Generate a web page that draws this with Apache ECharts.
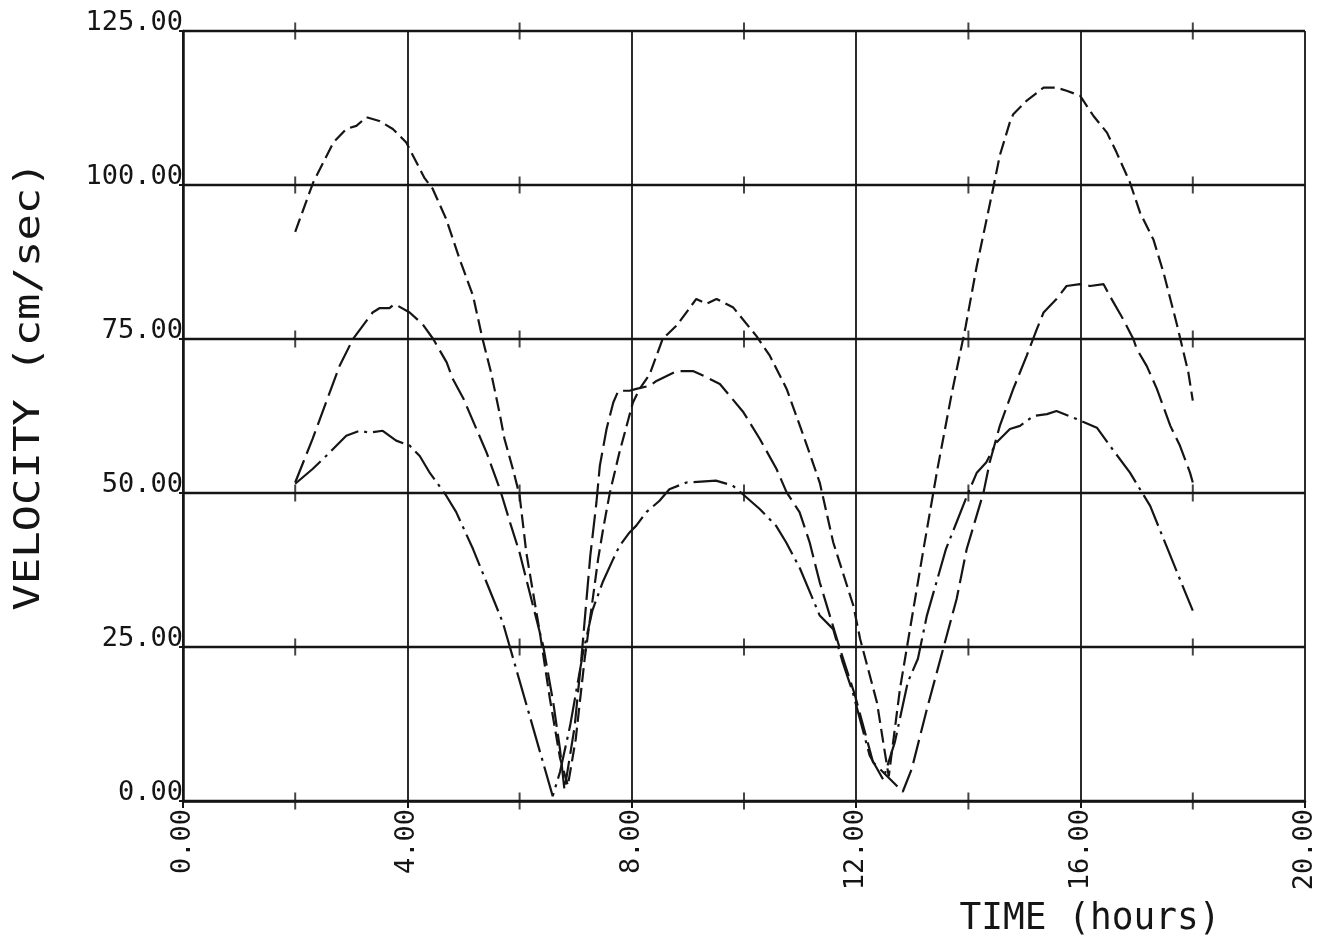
<!DOCTYPE html>
<html>
<head>
<meta charset="utf-8">
<script src="https://cdn.jsdelivr.net/npm/echarts@6/dist/echarts.min.js"></script>
<style>
  html, body { margin: 0; padding: 0; background: #fff; }
  #chart { width: 1321px; height: 940px; }
</style>
</head>
<body>
<div id="chart"></div>
<script>
// time (hours), velocity (cm/sec)
var shortDash = [
  [2.0, 92.4], [2.32, 100.4], [2.68, 106.9], [2.91, 109.1], [3.09, 109.6], [3.27, 111.0], [3.5, 110.4],
  [3.74, 109.1], [3.98, 106.9], [4.3, 101.2], [4.45, 99.4], [4.69, 94.5], [4.93, 88.0], [5.17, 82.0],
  [5.34, 75.0], [5.49, 69.6], [5.64, 63.1], [5.73, 58.8], [5.88, 53.9], [6.0, 49.6], [6.12, 40.3],
  [6.36, 27.4], [6.54, 16.6], [6.72, 7.0], [6.86, 2.5], [7.0, 10.0], [7.16, 23.1], [7.4, 39.3],
  [7.49, 44.2], [7.61, 50.1], [7.78, 56.6], [7.94, 62.0], [8.02, 64.7], [8.14, 66.9], [8.32, 69.3],
  [8.55, 75.0], [8.8, 77.2], [9.15, 81.5], [9.33, 80.7], [9.51, 81.5], [9.81, 80.1], [10.22, 75.5],
  [10.46, 72.3], [10.76, 66.9], [11.06, 59.3], [11.35, 51.7], [11.59, 42.0], [11.95, 31.7], [12.07, 26.3],
  [12.37, 16.0], [12.5, 8.5], [12.58, 4.0], [12.78, 18.2], [13.02, 31.2], [13.2, 40.9], [13.45, 54.0],
  [13.7, 66.0], [13.95, 77.0], [14.15, 86.9], [14.44, 99.4], [14.56, 104.8], [14.74, 110.2], [14.8, 111.5],
  [15.04, 113.7], [15.34, 115.8], [15.57, 115.8], [15.75, 115.3], [15.99, 114.5], [16.23, 111.2],
  [16.47, 108.5], [16.64, 105.3], [16.88, 100.4], [17.06, 95.5], [17.3, 91.1], [17.48, 85.7],
  [17.71, 77.6], [17.92, 69.6], [18.0, 65.0]
];
var longDash = [
  [2.0, 51.7], [2.31, 58.8], [2.55, 64.7], [2.79, 70.6], [3.03, 75.0], [3.38, 79.3], [3.5, 80.0],
  [3.68, 80.0], [3.77, 80.7], [4.04, 79.3], [4.27, 77.4], [4.46, 75.0], [4.7, 71.2], [4.81, 68.5],
  [5.0, 65.3], [5.23, 60.4], [5.41, 56.6], [5.65, 50.6], [5.83, 45.2], [6.0, 40.3], [6.42, 25.2],
  [6.6, 16.0], [6.72, 8.4], [6.8, 1.8], [6.98, 12.0], [7.1, 23.0], [7.26, 39.8], [7.37, 48.5],
  [7.43, 54.4], [7.55, 60.4], [7.67, 64.7], [7.76, 66.6], [7.96, 66.6], [8.08, 66.9], [8.32, 67.4],
  [8.44, 68.2], [8.8, 69.8], [9.09, 69.8], [9.33, 68.8], [9.57, 67.7], [9.99, 63.1], [10.28, 58.8],
  [10.58, 53.9], [10.76, 50.1], [10.99, 46.9], [11.17, 42.0], [11.35, 35.5], [11.53, 30.1], [11.71, 24.7],
  [11.98, 17.1], [12.3, 6.3], [12.83, 1.5], [12.99, 5.2], [13.26, 14.9], [13.55, 24.7], [13.79, 32.8],
  [13.97, 40.9], [14.27, 50.1], [14.38, 55.0], [14.56, 60.9], [14.8, 66.9], [15.04, 72.3], [15.22, 76.6],
  [15.34, 79.3], [15.57, 81.5], [15.75, 83.6], [15.99, 83.9], [16.17, 83.6], [16.41, 83.9], [16.52, 82.0],
  [16.76, 78.2], [16.94, 75.0], [17.0, 73.4], [17.18, 70.6], [17.36, 66.9], [17.6, 60.9], [17.77, 57.7],
  [17.95, 53.3], [18.0, 51.7]
];
var dashDot = [
  [2.0, 51.5], [2.31, 53.9], [2.55, 56.0], [2.91, 59.3], [3.15, 60.1], [3.32, 59.8], [3.56, 60.1],
  [3.8, 58.5], [4.04, 57.7], [4.22, 56.0], [4.39, 53.4], [4.69, 49.6], [4.87, 46.9], [5.17, 40.9],
  [5.7, 29.0], [5.82, 25.2], [6.18, 13.8], [6.59, 0.8], [6.72, 4.7], [6.9, 12.2], [7.13, 24.0],
  [7.3, 31.0], [7.48, 35.5], [7.67, 39.3], [7.78, 41.4], [7.96, 43.6], [8.08, 44.7], [8.26, 46.9],
  [8.49, 48.7], [8.67, 50.6], [8.97, 51.7], [9.5, 52.0], [9.8, 51.2], [9.98, 49.8], [10.28, 47.4],
  [10.57, 44.7], [10.75, 42.0], [11.0, 37.7], [11.35, 30.1], [11.59, 27.9], [11.76, 22.5], [11.94, 17.6],
  [12.24, 7.4], [12.48, 3.5], [12.69, 9.6], [12.92, 19.3], [13.1, 23.1], [13.26, 30.1], [13.6, 40.9],
  [14.0, 50.1], [14.15, 53.3], [14.32, 55.0], [14.5, 58.2], [14.62, 59.3], [14.74, 60.4], [14.92, 60.9],
  [15.16, 62.5], [15.4, 62.8], [15.57, 63.3], [15.93, 62.0], [16.29, 60.6], [16.52, 57.7], [16.88, 53.3],
  [17.06, 50.6], [17.24, 47.9], [17.77, 36.0], [18.0, 30.9]
];
var yTicks = [0, 25, 50, 75, 100, 125];
var xMinorTicks = [2, 6, 10, 14, 18];

// little "+" marks where the odd ticks cross each horizontal grid line
var crosses = [];
yTicks.forEach(function (y) {
  xMinorTicks.forEach(function (x) { crosses.push([x, y]); });
});

var myChart = echarts.init(document.getElementById('chart'));
var ink = '#151515';
var mono = 'DejaVu Sans Mono';

function curve(data, dash) {
  return {
    type: 'line',
    data: data,
    showSymbol: false,
    silent: true,
    animation: false,
    lineStyle: { color: ink, width: 2.2, type: dash }
  };
}

option = {
  backgroundColor: '#fff',
  animation: false,
  grid: { left: 183, top: 31, right: 16, bottom: 139 },
  xAxis: {
    type: 'value',
    min: 0,
    max: 20,
    interval: 4,
    axisLine: { show: true, lineStyle: { color: ink, width: 2.5 } },
    axisTick: { show: true, length: 7, lineStyle: { color: ink, width: 2 } },
    axisLabel: {
      rotate: 90,
      margin: 8,
      color: ink,
      fontFamily: mono,
      fontSize: 27,
      formatter: function (v) { return v.toFixed(2); }
    },
    splitLine: { show: true, lineStyle: { color: ink, width: 1.8 } }
  },
  yAxis: {
    type: 'value',
    min: 0,
    max: 125,
    interval: 25,
    axisLine: { show: true, lineStyle: { color: ink, width: 2.5 } },
    axisTick: { show: true, length: 4, lineStyle: { color: ink, width: 2 } },
    axisLabel: {
      margin: 0,
      color: ink,
      fontFamily: mono,
      fontSize: 27,
      verticalAlign: 'bottom',
      lineHeight: 16,
      formatter: function (v) { return v.toFixed(2); }
    },
    splitLine: { show: true, lineStyle: { color: ink, width: 2.4 } }
  },
  graphic: [
    {
      type: 'text', x: 30, y: 386, rotation: Math.PI / 2, scaleX: 1.22,
      style: { text: 'VELOCITY (cm/sec)', fontFamily: mono, fontSize: 36, fill: ink, align: 'center', verticalAlign: 'middle' }
    },
    {
      type: 'text', x: 1090, y: 919, scaleX: 0.95,
      style: { text: 'TIME (hours)', fontFamily: mono, fontSize: 38, fill: ink, align: 'center', verticalAlign: 'middle' }
    }
  ],
  series: [
    {
      type: 'scatter',
      data: crosses,
      symbol: 'rect',
      symbolSize: [2, 17],
      silent: true,
      itemStyle: { color: ink }
    },
    curve(shortDash, [14, 6]),
    curve(longDash, [24, 7]),
    curve(dashDot, [34, 6, 3, 6])
  ]
};
myChart.setOption(option);
</script>
</body>
</html>
